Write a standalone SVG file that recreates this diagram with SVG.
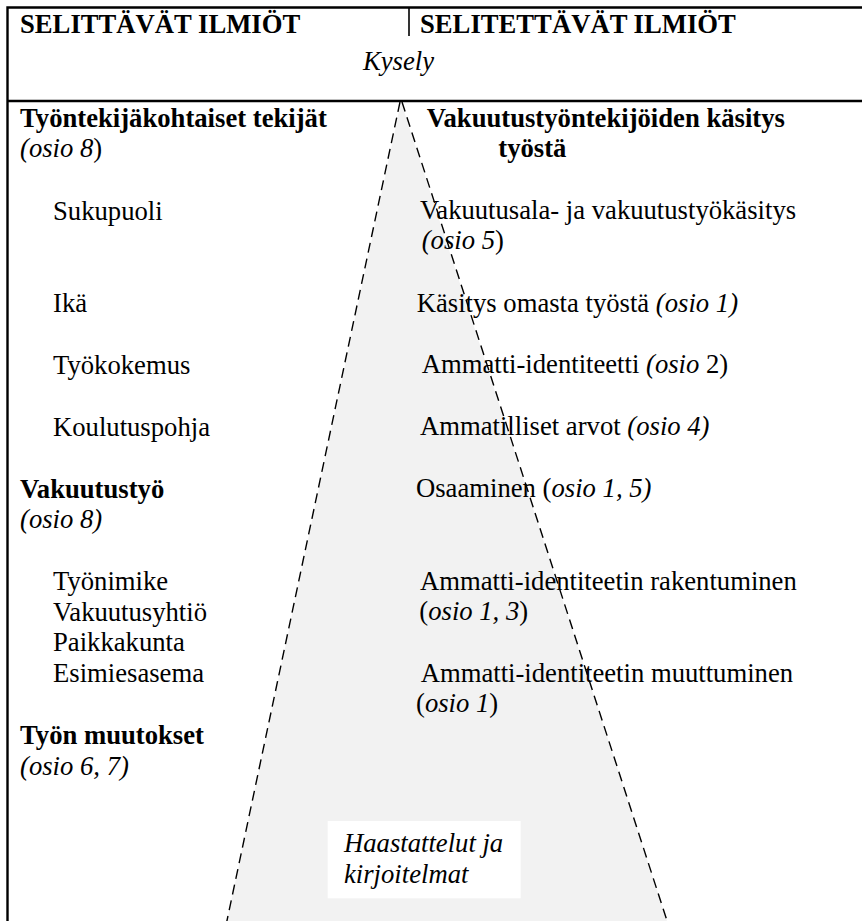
<svg xmlns="http://www.w3.org/2000/svg" width="862" height="921" viewBox="0 0 862 921">
  <style>
    text { font-family: "Liberation Serif", "Times New Roman", serif; font-size: 26.67px; fill: #000; }
    .b { font-weight: bold; }
    .i { font-style: italic; }
    .n { font-style: normal; }
    .frame { fill: none; stroke: #000; stroke-width: 2.4; }
    .edge { fill: none; stroke: #000; stroke-width: 1.4; stroke-dasharray: 10 6; }
  </style>

  <rect x="0" y="0" width="862" height="921" fill="#fff"/>

  <!-- shaded wedge for the qualitative material -->
  <polygon id="wedge" points="401,102 227,921 667,921" fill="#f2f2f2"/>

  <!-- table frame -->
  <g id="frame">
    <path class="frame" d="M 7.5 925 V 7.5 H 870"/>
    <line class="frame" x1="7.5" y1="101" x2="870" y2="101"/>
    <line x1="409" y1="7.5" x2="409" y2="36" stroke="#000" stroke-width="1.6"/>
  </g>

  <!-- column headings -->
  <g id="head-left"><text class="b" x="20" y="33">SELITTÄVÄT ILMIÖT</text></g>
  <g id="head-right"><text class="b" x="420" y="33">SELITETTÄVÄT ILMIÖT</text></g>
  <g id="survey"><text class="i" x="363" y="70">Kysely</text></g>

  <!-- explanatory factors -->
  <g id="employee-factors">
    <text class="b" x="20" y="126.7">Työntekijäkohtaiset tekijät</text>
    <text x="20" y="156.7"><tspan class="i">(osio 8</tspan>)</text>
    <text x="53" y="219.5">Sukupuoli</text>
    <text x="53" y="311.5">Ikä</text>
    <text x="53" y="373.5">Työkokemus</text>
    <text x="53" y="435.5">Koulutuspohja</text>
  </g>

  <g id="insurance-work">
    <text class="b" x="20" y="497.5">Vakuutustyö</text>
    <text class="i" x="20" y="528.3">(osio 8)</text>
    <text x="53" y="590">Työnimike</text>
    <text x="53" y="620.7">Vakuutusyhtiö</text>
    <text x="53" y="651.4">Paikkakunta</text>
    <text x="53" y="682">Esimiesasema</text>
  </g>

  <g id="work-changes">
    <text class="b" x="20" y="743.5">Työn muutokset</text>
    <text class="i" x="20" y="774.5">(osio 6, 7)</text>
  </g>

  <!-- phenomena to be explained -->
  <g id="perception">
    <text class="b" x="426.7" y="126.7">Vakuutustyöntekijöiden käsitys</text>
    <text class="b" x="498.3" y="156.5">työstä</text>
  </g>

  <g id="items-right">
    <text x="420" y="218.8">Vakuutusala- ja vakuutustyökäsitys</text>
    <text x="421.7" y="248.5"><tspan class="i">(osio 5</tspan>)</text>
    <text x="416.7" y="311.5">Käsitys omasta työstä <tspan class="i">(osio 1)</tspan></text>
    <text x="421.7" y="373.3">Ammatti-identiteetti <tspan class="i">(osio </tspan>2)</text>
    <text x="420" y="435.2">Ammatilliset arvot <tspan class="i">(osio 4)</tspan></text>
    <text x="416" y="496.8">Osaaminen (<tspan class="i">osio 1, 5)</tspan></text>
    <text x="420" y="589.5">Ammatti-identiteetin rakentuminen</text>
    <text x="419.3" y="620">(<tspan class="i">osio 1, 3</tspan>)</text>
    <text x="420.7" y="681.7">Ammatti-identiteetin muuttuminen</text>
    <text x="416" y="711.7">(<tspan class="i">osio 1</tspan>)</text>
  </g>

  <!-- interview label -->
  <g id="interviews">
    <rect x="327.7" y="821" width="193" height="77.3" fill="#fff"/>
    <text class="i" x="344" y="851.7">Haastattelut ja</text>
    <text class="i" x="344" y="883.3">kirjoitelmat</text>
  </g>

  <!-- dashed sides of the wedge -->
  <g id="connectors">
    <line class="edge" x1="400" y1="102" x2="225" y2="930"/>
    <line class="edge" x1="402" y1="102" x2="670" y2="930"/>
  </g>
</svg>
